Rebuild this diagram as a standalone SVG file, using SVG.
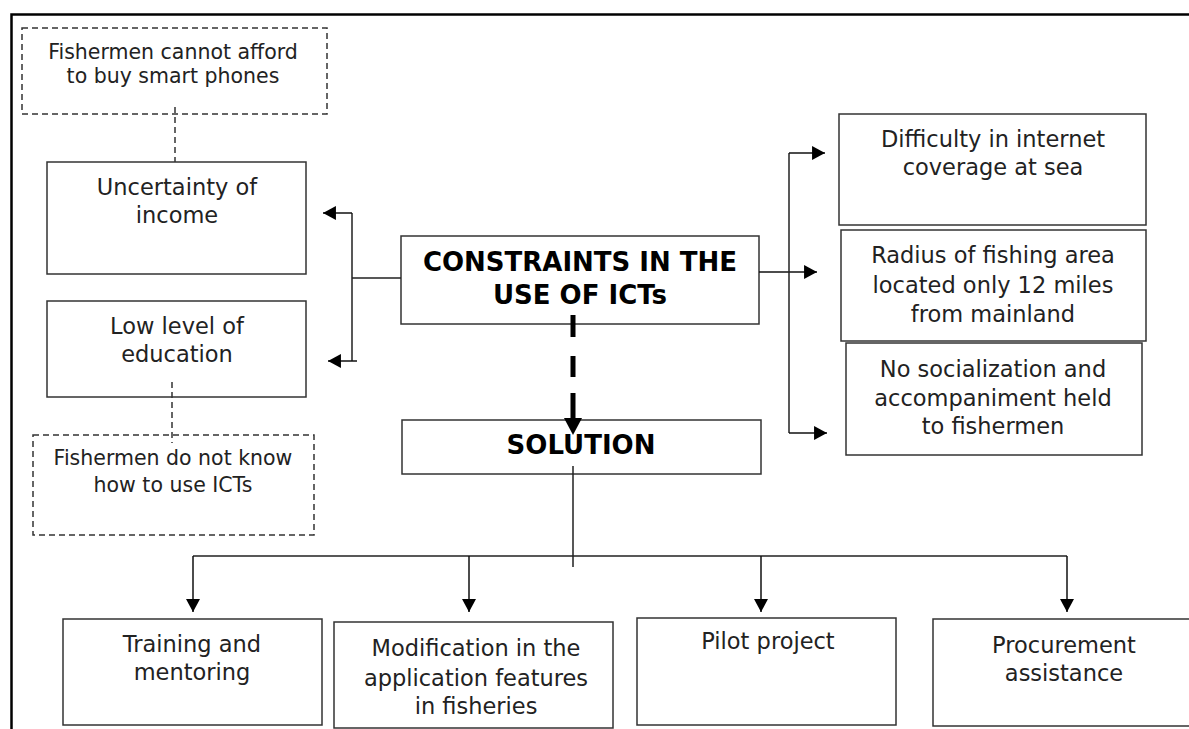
<svg xmlns="http://www.w3.org/2000/svg" width="1189" height="729" viewBox="0 0 1189 729">
  <style>
    .box { fill: #fff; stroke: #333; stroke-width: 1.5; }
    .dbox { fill: #fff; stroke: #333; stroke-width: 1.5; stroke-dasharray: 6 4; }
    .t { font-family: "DejaVu Sans", Verdana, "Liberation Sans", sans-serif; font-size: 22.5px; fill: #222; text-anchor: middle; }
    .ts { font-family: "DejaVu Sans", Verdana, "Liberation Sans", sans-serif; font-size: 20.5px; fill: #222; text-anchor: middle; }
    .b { font-family: "DejaVu Sans", Verdana, "Liberation Sans", sans-serif; font-size: 26px; font-weight: bold; fill: #000; text-anchor: middle; }
    .ln { fill: none; stroke: #222; stroke-width: 1.5; }
    .dl { fill: none; stroke: #333; stroke-width: 1.5; stroke-dasharray: 6 4; }
    .arr { fill: none; stroke: #111; stroke-width: 1.5; marker-end: url(#ah); }
  </style>
  <defs>
    <marker id="ah" markerUnits="userSpaceOnUse" markerWidth="14" markerHeight="14" refX="12" refY="6.5" orient="auto" viewBox="0 0 12 13">
      <path d="M0,0 L12,6.5 L0,13 Z" fill="#000"/>
    </marker>
    <marker id="ahb" markerUnits="userSpaceOnUse" markerWidth="18" markerHeight="18" refX="0" refY="8" orient="auto" viewBox="0 0 15 16">
      <path d="M0,0 L15,8 L0,16 Z" fill="#000"/>
    </marker>
  </defs>
  <rect width="1189" height="729" fill="#fff"/>
  <g id="frame">
    <path d="M11.5,729 V14.5 H1189" fill="none" stroke="#000" stroke-width="2.5"/>
  </g>

  <g id="n-afford">
    <rect class="dbox" x="22" y="28" width="305" height="86"/>
    <text class="ts" x="173" y="59">Fishermen cannot afford</text>
    <text class="ts" x="173" y="83">to buy smart phones</text>
  </g>
  <g id="n-income">
    <rect class="box" x="47" y="162" width="259" height="112"/>
    <text class="t" x="177" y="195">Uncertainty of</text>
    <text class="t" x="177" y="223">income</text>
  </g>
  <g id="n-education">
    <rect class="box" x="47" y="301" width="259" height="96"/>
    <text class="t" x="177" y="334">Low level of</text>
    <text class="t" x="177" y="362">education</text>
  </g>
  <g id="n-know">
    <rect class="dbox" x="33" y="435" width="281" height="100"/>
    <text class="ts" x="173" y="465">Fishermen do not know</text>
    <text class="ts" x="173" y="492">how to use ICTs</text>
  </g>
  <g id="n-constraints">
    <rect class="box" x="401" y="236" width="358" height="88"/>
    <text class="b" x="580" y="271">CONSTRAINTS IN THE</text>
    <text class="b" x="580" y="304">USE OF ICTs</text>
  </g>
  <g id="n-solution">
    <rect class="box" x="402" y="420" width="359" height="54"/>
    <text class="b" x="581" y="454">SOLUTION</text>
  </g>
  <g id="n-internet">
    <rect class="box" x="839" y="114" width="307" height="111"/>
    <text class="t" x="993" y="147">Difficulty in internet</text>
    <text class="t" x="993" y="175">coverage at sea</text>
  </g>
  <g id="n-radius">
    <rect class="box" x="841" y="230" width="305" height="111"/>
    <text class="t" x="993" y="263">Radius of fishing area</text>
    <text class="t" x="993" y="293">located only 12 miles</text>
    <text class="t" x="993" y="322">from mainland</text>
  </g>
  <g id="n-social">
    <rect class="box" x="846" y="343" width="296" height="112"/>
    <text class="t" x="993" y="377">No socialization and</text>
    <text class="t" x="993" y="406">accompaniment held</text>
    <text class="t" x="993" y="434">to fishermen</text>
  </g>
  <g id="n-training">
    <rect class="box" x="63" y="619" width="259" height="106"/>
    <text class="t" x="192" y="652">Training and</text>
    <text class="t" x="192" y="680">mentoring</text>
  </g>
  <g id="n-modification">
    <rect class="box" x="334" y="622" width="279" height="106"/>
    <text class="t" x="476" y="656">Modification in the</text>
    <text class="t" x="476" y="686">application features</text>
    <text class="t" x="476" y="714">in fisheries</text>
  </g>
  <g id="n-pilot">
    <rect class="box" x="637" y="618" width="259" height="107"/>
    <text class="t" x="768" y="649">Pilot project</text>
  </g>
  <g id="n-procurement">
    <rect class="box" x="933" y="619" width="270" height="107"/>
    <text class="t" x="1064" y="653">Procurement</text>
    <text class="t" x="1064" y="681">assistance</text>
  </g>

  <g id="connectors">
    <path class="dl" d="M175,107 V162"/>
    <path class="dl" d="M172,382 V443"/>
    <path class="ln" d="M401,278 H352 M352,213 V361"/>
    <path class="arr" d="M352,213 H323"/>
    <path class="arr" d="M357,361 H328"/>
    <path class="arr" d="M759,272 H817"/>
    <path class="ln" d="M789,153 V433"/>
    <path class="arr" d="M789,153 H825"/>
    <path class="arr" d="M789,433 H827"/>
    <path d="M573,315 V418" fill="none" stroke="#000" stroke-width="5" stroke-dasharray="22 19 21 16 30" marker-end="url(#ahb)"/>
    <path class="ln" d="M573,466 V567 M193,556 H1067"/>
    <path class="arr" d="M193,556 V612"/>
    <path class="arr" d="M469,556 V612"/>
    <path class="arr" d="M761,556 V612"/>
    <path class="arr" d="M1067,556 V612"/>
  </g>
</svg>
